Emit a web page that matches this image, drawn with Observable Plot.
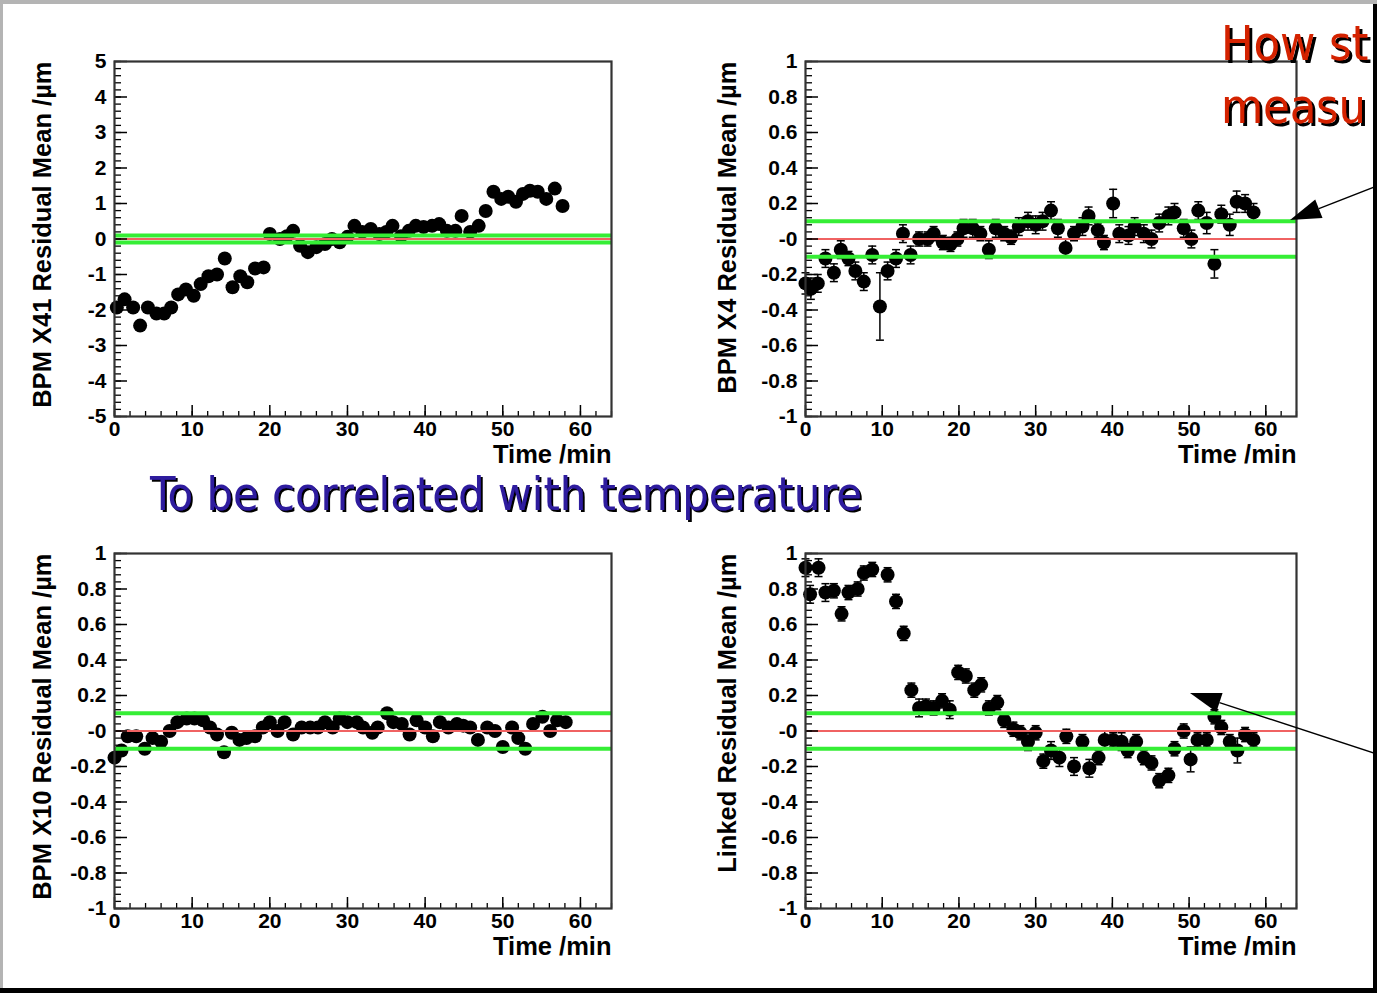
<!DOCTYPE html>
<html><head><meta charset="utf-8">
<script src="https://cdn.jsdelivr.net/npm/d3@7"></script>
<script src="https://cdn.jsdelivr.net/npm/@observablehq/plot@0.6"></script>
<style>
html,body{margin:0;padding:0;background:#fff;}
#slide{position:relative;width:1377px;height:993px;overflow:hidden;background:#fff;}
.layer{position:absolute;left:0;top:0;}
.panel{position:absolute;z-index:1;}
</style></head><body><div id="slide"></div>
<script>
// ---------- data ----------
const timeX41 = [0.3,1.3,2.4,3.3,4.3, 5.4,6.4,7.3,8.2,9.2, 10.2,11.1,12.1,13.2,14.2, 15.2,16.2,17.1,18.1,19.2,
  20.0,21.3,22.2,23.0,23.9, 24.9,26.0,27.1,28.0,29.0, 30.0,30.9,31.9,33.0,34.1, 35.0,35.8,36.9,37.9,38.8,
  39.8,40.9,41.8,42.8,43.9, 44.7,45.8,46.9,47.8,48.8, 49.8,50.7,51.7,52.6,53.5, 54.5,55.6,56.7,57.7];
const meanX41 = [-1.93,-1.7,-1.93,-2.44,-1.93, -2.1,-2.1,-1.93,-1.56,-1.42, -1.6,-1.27,-1.05,-1.0,-0.55, -1.36,-1.05,-1.22,-0.83,-0.8,
  0.14,0.0,0.08,0.23,-0.19, -0.37,-0.23,-0.14,0.0,-0.09, 0.06,0.37,0.2,0.28,0.14, 0.2,0.37,0.08,0.23,0.37,
  0.34,0.37,0.42,0.23,0.23, 0.65,0.2,0.37,0.79,1.33, 1.13,1.19,1.05,1.27,1.36, 1.33,1.13,1.42,0.93];

const timeX4 = [0.0,0.7,1.6,2.6,3.7, 4.6,5.6,6.5,7.6,8.7, 9.7,10.7,11.8,12.7,13.7, 14.8,15.9,16.7,17.9,18.9,
  19.8,20.6,21.8,22.8,23.9, 24.8,25.9,26.8,27.8,29.0, 30.0,30.9,32.0,32.9,33.9, 35.0,36.1,36.9,38.1,38.9,
  40.1,40.9,42.1,42.9,44.1, 45.1,46.1,47.3,48.1,49.3, 50.3,51.2,52.3,53.3,54.2, 55.3,56.2,57.3,58.4];
const meanX4 = [-0.25,-0.28,-0.25,-0.11,-0.19, -0.06,-0.11,-0.18,-0.24,-0.09, -0.38,-0.18,-0.11,0.03,-0.09, 0.0,0.0,0.03,-0.02,-0.03,
  0.0,0.06,0.06,0.03,-0.06, 0.06,0.03,0.01,0.07,0.1, 0.08,0.1,0.16,0.06,-0.05, 0.03,0.07,0.13,0.05,-0.02,
  0.2,0.03,0.02,0.07,0.03, 0.0,0.09,0.13,0.15,0.06, 0.0,0.16,0.09,-0.14,0.14, 0.08,0.21,0.2,0.15];
const errX4 = [0.06,0.06,0.05,0.05,0.05, 0.05,0.04,0.05,0.05,0.05, 0.19,0.05,0.05,0.05,0.05, 0.04,0.04,0.04,0.04,0.04,
  0.04,0.05,0.05,0.04,0.05, 0.05,0.04,0.04,0.05,0.05, 0.05,0.05,0.05,0.05,0.05, 0.04,0.05,0.05,0.04,0.04,
  0.08,0.05,0.05,0.05,0.05, 0.05,0.05,0.05,0.05,0.05, 0.05,0.05,0.06,0.08,0.05, 0.06,0.06,0.05,0.05];

const timeX10 = [0.0,0.9,1.7,2.8,3.9, 4.9,6.0,7.1,8.1,9.3, 10.3,11.4,12.3,13.2,14.1, 15.1,16.1,17.0,18.1,19.1,
  20.0,21.0,21.9,23.0,24.1, 25.2,26.2,27.1,28.1,29.0, 30.0,31.2,32.0,33.2,33.9, 35.1,35.9,37.0,38.0,38.9,
  40.0,41.0,41.9,43.0,44.1, 44.9,45.8,46.8,48.0,49.0, 50.0,51.2,52.0,52.9,53.9, 55.1,56.1,57.0,58.1];
const meanX10 = [-0.15,-0.11,-0.03,-0.03,-0.1, -0.04,-0.06,0.0,0.05,0.07, 0.07,0.06,0.02,-0.02,-0.12, -0.01,-0.05,-0.04,-0.03,0.02,
  0.05,0.0,0.05,-0.02,0.02, 0.02,0.02,0.05,0.02,0.07, 0.05,0.05,0.02,-0.01,0.02, 0.1,0.05,0.04,-0.02,0.06,
  0.02,-0.03,0.05,0.02,0.04, 0.03,0.02,-0.05,0.02,0.0, -0.09,0.02,-0.04,-0.1,0.04, 0.08,0.0,0.06,0.05];

const timeLinked = [0.0,0.6,1.7,2.6,3.7, 4.7,5.6,6.8,7.6,8.7, 10.7,11.8,12.8,13.8,14.8, 15.7,16.7,17.8,18.8,19.9,
  20.9,22.0,22.9,23.9,25.0, 25.9,27.1,28.0,29.0,30.0, 31.0,32.0,33.1,34.0,35.0, 36.1,37.0,38.2,39.0,40.1,
  41.2,42.0,43.1,44.1,45.1, 46.1,47.3,48.1,49.3,50.2, 51.1,52.3,53.3,54.2,55.3, 56.3,57.3,58.4];
const meanLinked = [0.92,0.77,0.92,0.78,0.79, 0.66,0.78,0.8,0.89,0.91, 0.88,0.73,0.55,0.23,0.13, 0.14,0.13,0.17,0.12,0.33,
  0.31,0.23,0.26,0.13,0.16, 0.06,0.01,-0.01,-0.06,-0.01, -0.17,-0.11,-0.15,-0.03,-0.2, -0.06,-0.21,-0.15,-0.05,-0.05,
  -0.06,-0.11,-0.06,-0.15,-0.18, -0.28,-0.25,-0.1,0.0,-0.16, -0.05,-0.05,0.08,0.02,-0.06, -0.11,-0.02,-0.05];
const errLinked = [0.05,0.05,0.05,0.05,0.04, 0.04,0.04,0.04,0.04,0.04, 0.04,0.04,0.04,0.04,0.05, 0.04,0.04,0.04,0.05,0.04,
  0.04,0.04,0.04,0.04,0.04, 0.04,0.04,0.04,0.05,0.04, 0.04,0.05,0.05,0.04,0.05, 0.04,0.05,0.04,0.05,0.04,
  0.05,0.04,0.04,0.04,0.04, 0.04,0.04,0.04,0.04,0.07, 0.04,0.04,0.04,0.04,0.04, 0.07,0.04,0.04];

const xTicks = [0, 10, 20, 30, 40, 50, 60];
const xTickLabels = ["0", "10", "20", "30", "40", "50", "60"];
const yTicksWide = [-5, -4, -3, -2, -1, 0, 1, 2, 3, 4, 5];
const yTickLabelsWide = ["-5", "-4", "-3", "-2", "-1", "0", "1", "2", "3", "4", "5"];
const yTicksNarrow = [-1, -0.8, -0.6, -0.4, -0.2, 0, 0.2, 0.4, 0.6, 0.8, 1];
const yTickLabelsNarrow = ["-1", "-0.8", "-0.6", "-0.4", "-0.2", "-0", "0.2", "0.4", "0.6", "0.8", "1"];
const toleranceLines = [-0.1, 0.1];
const zeroLine = [0];
const xAxisTitle = "Time /min";
const yTitles = ["BPM X41 Residual Mean /µm", "BPM X4 Residual Mean /µm", "BPM X10 Residual Mean /µm", "Linked Residual Mean /µm"];
const slideNote = "To be correlated with temperature";
const slideQuestion = ["How st", "measu"]; // visible part of the slide's cut-off question

// ---------- panels ----------
const slide = document.getElementById("slide");
const capSymbol = { draw(ctx, size) { const r = Math.sqrt(size / Math.PI); ctx.moveTo(-r, 0); ctx.lineTo(r, 0); } };
const FONT = "'Liberation Sans', Arial, Helvetica, sans-serif";

function makePanel({frameLeft, frameTop, W, H, yDomain, yTicks, yLabels, yMinorStep, times, means, errs, title, titleDx}) {
  const mL = 114, mR = 40, mT = 40, mB = 70;
  const rows = times.map((t, i) => ({t, v: means[i], e: errs ? errs[i] : 0}));
  const yMinor = d3.range(yDomain[0], yDomain[1] + yMinorStep / 2, yMinorStep);
  const xMinor = d3.range(0, 64.01, 2);
  const marks = [];
  if (errs) {
    marks.push(Plot.ruleX(rows, {x: "t", y1: d => d.v - d.e, y2: d => d.v + d.e, stroke: "black", strokeWidth: 1.5}));
    marks.push(Plot.dot(rows, {x: "t", y: d => d.v + d.e, symbol: capSymbol, r: 4, stroke: "black", strokeWidth: 1.5}));
    marks.push(Plot.dot(rows, {x: "t", y: d => d.v - d.e, symbol: capSymbol, r: 4, stroke: "black", strokeWidth: 1.5}));
  }
  marks.push(
    Plot.dot(rows, {x: "t", y: "v", r: 7, fill: "black", stroke: "none"}),
    Plot.ruleY(toleranceLines, {stroke: "#35ee35", strokeWidth: 4}),
    Plot.ruleY(zeroLine, {stroke: "#f06262", strokeWidth: 2}),
    Plot.tickY(yMinor, {y: d => d, insetRight: W - 7, stroke: "black", strokeWidth: 1.3}),
    Plot.tickY(yTicks, {y: d => d, insetRight: W - 13, stroke: "black", strokeWidth: 1.5}),
    Plot.tickX(xMinor, {x: d => d, insetTop: H - 5, stroke: "black", strokeWidth: 1.3}),
    Plot.tickX(xTicks, {x: d => d, insetTop: H - 11, stroke: "black", strokeWidth: 1.5}),
    Plot.frame({stroke: "#333", strokeWidth: 2.2}),
    Plot.axisY(yTicks, {anchor: "left", tickSize: 0, tickPadding: 8, label: null,
      tickFormat: d => yLabels[yTicks.indexOf(d)], fontSize: 21, fontWeight: "bold"}),
    Plot.axisX(xTicks, {anchor: "bottom", tickSize: 0, tickPadding: 5, label: null,
      tickFormat: d => xTickLabels[xTicks.indexOf(d)], fontSize: 21, fontWeight: "bold"}),
    Plot.text([title], {text: d => d, frameAnchor: "top-left", rotate: -90, textAnchor: "end", dx: titleDx,
      fontSize: 25.5, fontWeight: "bold", fill: "black"}),
    Plot.text([xAxisTitle], {text: d => d, frameAnchor: "bottom-right", textAnchor: "end", dy: 46,
      fontSize: 25.5, fontWeight: "bold", fill: "black"})
  );
  const chart = Plot.plot({
    width: W + mL + mR, height: H + mT + mB,
    marginLeft: mL, marginRight: mR, marginTop: mT, marginBottom: mB,
    x: {domain: [0, 64]},
    y: {domain: yDomain},
    style: {fontFamily: FONT, fontWeight: "bold", fontSize: "21px",
      background: "transparent", overflow: "visible", color: "#000"},
    marks
  });
  chart.classList.add("panel");
  chart.style.left = (frameLeft - mL) + "px";
  chart.style.top = (frameTop - mT) + "px";
  slide.appendChild(chart);
}

makePanel({frameLeft: 114, frameTop: 61, W: 497, H: 355, yDomain: [-5, 5], yTicks: yTicksWide, yLabels: yTickLabelsWide,
  yMinorStep: 0.2, times: timeX41, means: meanX41, errs: null, title: yTitles[0], titleDx: -82});
makePanel({frameLeft: 805, frameTop: 61, W: 491, H: 355, yDomain: [-1, 1], yTicks: yTicksNarrow, yLabels: yTickLabelsNarrow,
  yMinorStep: 0.04, times: timeX4, means: meanX4, errs: errX4, title: yTitles[1], titleDx: -88});
makePanel({frameLeft: 114, frameTop: 553, W: 497, H: 355, yDomain: [-1, 1], yTicks: yTicksNarrow, yLabels: yTickLabelsNarrow,
  yMinorStep: 0.04, times: timeX10, means: meanX10, errs: null, title: yTitles[2], titleDx: -82});
makePanel({frameLeft: 805, frameTop: 553, W: 491, H: 355, yDomain: [-1, 1], yTicks: yTicksNarrow, yLabels: yTickLabelsNarrow,
  yMinorStep: 0.04, times: timeLinked, means: meanLinked, errs: errLinked, title: yTitles[3], titleDx: -88});

// ---------- slide text and arrows (on top of panels) ----------
const overlay = d3.select(slide).append("svg").attr("class", "layer").style("z-index", 2)
  .attr("width", 1373).attr("height", 993);
const defs = overlay.append("defs");
[["shadow2", 2], ["shadow3", 3]].forEach(([id, off]) => {
  defs.append("filter").attr("id", id).attr("x", "-5%").attr("y", "-20%").attr("width", "115%").attr("height", "150%")
    .append("feDropShadow").attr("dx", off).attr("dy", off).attr("stdDeviation", 0.4).attr("flood-color", "#000").attr("flood-opacity", 1);
});
function slideText(str, x, y, size, color, filterId, len) {
  const t = overlay.append("text").attr("x", x).attr("y", y).attr("fill", color).attr("filter", `url(#${filterId})`)
    .style("font-family", "'DejaVu Sans Condensed','DejaVu Sans',sans-serif").style("font-size", size + "px").text(str);
  if (len) t.attr("textLength", len).attr("lengthAdjust", "spacingAndGlyphs");
}
slideText(slideNote, 150, 510, 46, "#2e1a9e", "shadow2", 712);
slideText(slideQuestion[0], 1221, 60, 48, "#d42400", "shadow3", null);
slideText(slideQuestion[1], 1221, 123, 48, "#d42400", "shadow3", null);

const arrows = [{from: [1377, 186], to: [1290, 220]}, {from: [1377, 754], to: [1190, 693]}];
arrows.forEach(({from, to}) => {
  const dx = from[0] - to[0], dy = from[1] - to[1], L = Math.hypot(dx, dy);
  const ux = dx / L, uy = dy / L, hl = 31, hw = 10;
  const bx = to[0] + ux * hl, by = to[1] + uy * hl;
  overlay.append("line").attr("x1", from[0]).attr("y1", from[1]).attr("x2", bx).attr("y2", by)
    .attr("stroke", "#000").attr("stroke-width", 1.4);
  overlay.append("polygon").attr("fill", "#000")
    .attr("points", [[to[0], to[1]], [bx - uy * hw, by + ux * hw], [bx + uy * hw, by - ux * hw]].map(p => p.join(",")).join(" "));
});

// ---------- slide borders ----------
[["0px","0px","1377px","4px","#b4b4b4"],["0px","0px","3px","993px","#b4b4b4"],
 ["0px","988px","1377px","5px","#000"],["1373px","4px","4px","984px","#000"]].forEach(([l,t,w,h,c]) => {
  const d = document.createElement("div");
  Object.assign(d.style, {position: "absolute", left: l, top: t, width: w, height: h, background: c, zIndex: 3});
  slide.appendChild(d);
});
</script></body></html>
